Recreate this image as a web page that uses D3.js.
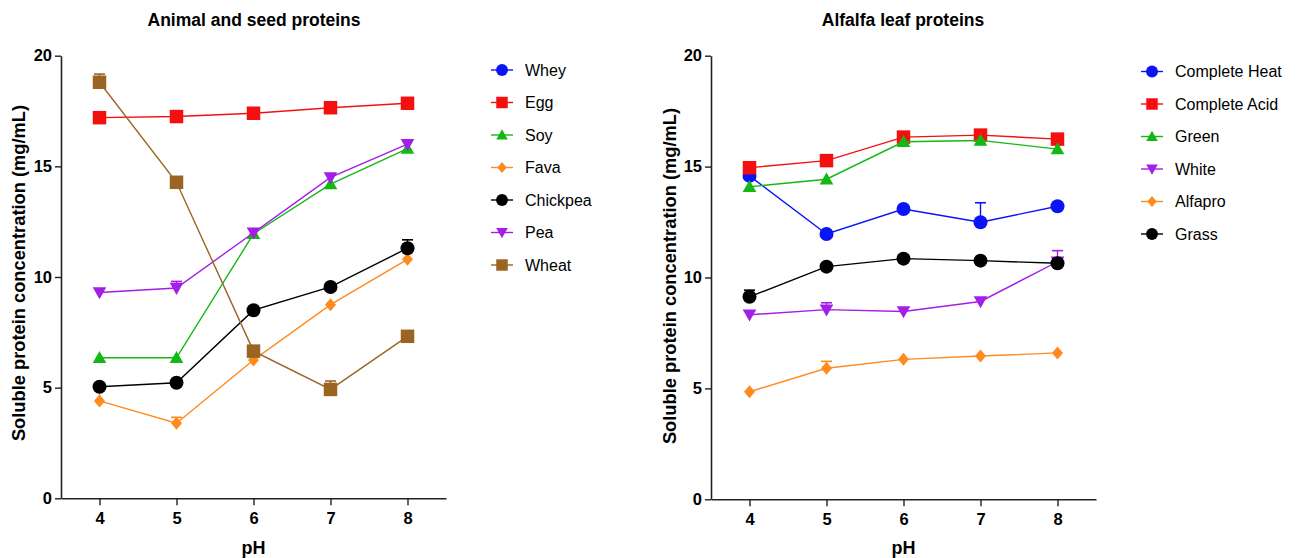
<!DOCTYPE html>
<html>
<head>
<meta charset="utf-8">
<script src="https://cdn.jsdelivr.net/npm/d3@7"></script>
<style>
  html, body { margin: 0; padding: 0; background: #fff; }
  svg { display: block; font-family: "Liberation Sans", Arial, sans-serif; }
</style>
</head>
<body>
<svg id="chart" width="1301" height="558"></svg>
<script>
// pH levels tested
const phLevels = [4, 5, 6, 7, 8];
const yTicks = [0, 5, 10, 15, 20];

// Animal and seed proteins: soluble protein (mg/mL) at each pH
const animalNames = ["Whey", "Egg", "Soy", "Fava", "Chickpea", "Pea", "Wheat"];
const whey     = [];
const egg      = [17.2, 17.25, 17.4, 17.65, 17.85];
const soy      = [6.35, 6.35, 11.95, 14.2, 15.8];
const fava     = [4.4, 3.39, 6.25, 8.75, 10.8];
const chickpea = [5.04, 5.22, 8.5, 9.55, 11.3];
const pea      = [9.3, 9.5, 12.0, 14.5, 16.0];
const wheat    = [18.8, 14.28, 6.65, 4.92, 7.32];
// upper error (SD) for each point
const eggErr      = [0, 0, 0, 0, 0];
const soyErr      = [0, 0, 0, 0, 0];
const favaErr     = [0.5, 0.27, 0, 0, 0];
const chickpeaErr = [0, 0, 0, 0, 0.38];
const peaErr      = [0, 0.3, 0, 0, 0];
const wheatErr    = [0.37, 0, 0, 0.38, 0];

// Alfalfa leaf proteins
const alfalfaNames = ["Complete Heat", "Complete Acid", "Green", "White", "Alfapro", "Grass"];
const completeHeat = [14.58, 11.96, 13.09, 12.49, 13.21];
const completeAcid = [14.95, 15.27, 16.33, 16.42, 16.24];
const green        = [14.09, 14.43, 16.12, 16.18, 15.79];
const white        = [8.32, 8.55, 8.47, 8.92, 10.71];
const alfapro      = [4.85, 5.91, 6.31, 6.46, 6.6];
const grass        = [9.13, 10.49, 10.85, 10.76, 10.64];
const completeHeatErr = [0, 0, 0, 0.88, 0];
const completeAcidErr = [0, 0, 0, 0, 0];
const greenErr        = [0, 0, 0, 0, 0];
const whiteErr        = [0, 0.31, 0, 0, 0.5];
const alfaproErr      = [0, 0.31, 0, 0, 0];
const grassErr        = [0.3, 0, 0, 0, 0];

const COLORS = {
  blue: "#0a14f5", red: "#f51010", green: "#14b814", orange: "#ff8a1e",
  black: "#000000", purple: "#a31ee6", brown: "#9a6523"
};

const animalSeries = [
  { name: "Whey", values: whey, err: [], color: COLORS.blue, shape: "circle" },
  { name: "Egg", values: egg, err: eggErr, color: COLORS.red, shape: "square" },
  { name: "Soy", values: soy, err: soyErr, color: COLORS.green, shape: "up" },
  { name: "Fava", values: fava, err: favaErr, color: COLORS.orange, shape: "diamond" },
  { name: "Chickpea", values: chickpea, err: chickpeaErr, color: COLORS.black, shape: "circle" },
  { name: "Pea", values: pea, err: peaErr, color: COLORS.purple, shape: "down" },
  { name: "Wheat", values: wheat, err: wheatErr, color: COLORS.brown, shape: "square" }
];

const alfalfaSeries = [
  { name: "Complete Heat", values: completeHeat, err: completeHeatErr, color: COLORS.blue, shape: "circle" },
  { name: "Complete Acid", values: completeAcid, err: completeAcidErr, color: COLORS.red, shape: "square" },
  { name: "Green", values: green, err: greenErr, color: COLORS.green, shape: "up" },
  { name: "White", values: white, err: whiteErr, color: COLORS.purple, shape: "down" },
  { name: "Alfapro", values: alfapro, err: alfaproErr, color: COLORS.orange, shape: "diamond" },
  { name: "Grass", values: grass, err: grassErr, color: COLORS.black, shape: "circle" }
];

const svg = d3.select("#chart");

// Marker path generator centred on 0,0
function markerPath(shape, s) {
  const h = s / 2;
  switch (shape) {
    case "circle": return d3.symbol(d3.symbolCircle, Math.PI * h * h)();
    case "square": return `M${-h},${-h}H${h}V${h}H${-h}Z`;
    case "up": return `M0,${-h * 1.05}L${h * 1.05},${h * 0.8}L${-h * 1.05},${h * 0.8}Z`;
    case "down": return `M0,${h * 1.05}L${h * 1.05},${-h * 0.8}L${-h * 1.05},${-h * 0.8}Z`;
    case "diamond": return `M0,${-h}L${h * 0.85},0L0,${h}L${-h * 0.85},0Z`;
  }
}
const markerSize = { circle: 14, square: 13.5, up: 13, down: 13, diamond: 13 };

function drawPanel(cfg) {
  const g = svg.append("g");
  const x = d3.scaleLinear().domain([3.5, 8.5]).range([cfg.left, cfg.right]);
  const y = d3.scaleLinear().domain([0, 20]).range([cfg.bottom, cfg.top]);

  // Title
  g.append("text")
    .attr("x", cfg.titleX).attr("y", 26)
    .attr("text-anchor", "middle")
    .attr("font-weight", "bold").attr("font-size", 17.5)
    .text(cfg.title);

  // Axes
  const yAxis = g.append("g")
    .attr("transform", `translate(${cfg.left},0)`)
    .call(d3.axisLeft(y).tickValues(yTicks).tickFormat(d3.format("d"))
      .tickSize(6).tickPadding(3).tickSizeOuter(0));
  const xAxis = g.append("g")
    .attr("transform", `translate(0,${cfg.bottom})`)
    .call(d3.axisBottom(x).tickValues(phLevels).tickFormat(d3.format("d"))
      .tickSize(7).tickPadding(7).tickSizeOuter(0));
  [xAxis, yAxis].forEach(ax => {
    ax.select(".domain").attr("stroke", "#222").attr("stroke-width", 1.6);
    ax.selectAll(".tick line").attr("stroke", "#222").attr("stroke-width", 1.4);
    ax.selectAll(".tick text")
      .attr("fill", "#000").attr("font-size", 16.5).attr("font-weight", "bold")
      .attr("font-family", "Liberation Sans, Arial, sans-serif");
  });

  // Axis titles
  g.append("text")
    .attr("x", (cfg.left + cfg.right) / 2).attr("y", 554)
    .attr("text-anchor", "middle")
    .attr("font-weight", "bold").attr("font-size", 18)
    .text("pH");
  g.append("text")
    .attr("transform", `translate(${cfg.yTitleX},${cfg.yTitleY}) rotate(-90)`)
    .attr("text-anchor", "middle")
    .attr("font-weight", "bold").attr("font-size", 18.3)
    .text("Soluble protein concentration (mg/mL)");

  const line = d3.line().x((d, i) => x(phLevels[i])).y(d => y(d));

  cfg.series.forEach(s => {
    if (!s.values.length) return;
    const sg = g.append("g");
    sg.append("path")
      .attr("d", line(s.values))
      .attr("fill", "none").attr("stroke", s.color).attr("stroke-width", 1.4);
    // upper error bars with cap
    s.values.forEach((v, i) => {
      const e = s.err[i] || 0;
      if (e <= 0) return;
      const cx = x(phLevels[i]);
      sg.append("line")
        .attr("x1", cx).attr("x2", cx).attr("y1", y(v)).attr("y2", y(v + e))
        .attr("stroke", s.color).attr("stroke-width", 1.4);
      sg.append("line")
        .attr("x1", cx - 5.5).attr("x2", cx + 5.5).attr("y1", y(v + e)).attr("y2", y(v + e))
        .attr("stroke", s.color).attr("stroke-width", 1.6);
    });
    sg.selectAll("path.mk")
      .data(s.values)
      .join("path")
      .attr("class", "mk")
      .attr("transform", (d, i) => `translate(${x(phLevels[i])},${y(d)})`)
      .attr("d", markerPath(s.shape, markerSize[s.shape]))
      .attr("fill", s.color);
  });

  // Legend
  const lg = g.append("g");
  cfg.series.forEach((s, i) => {
    const ly = cfg.legendY + i * cfg.legendStep;
    lg.append("line")
      .attr("x1", cfg.legendX).attr("x2", cfg.legendX + 22)
      .attr("y1", ly).attr("y2", ly)
      .attr("stroke", s.color).attr("stroke-width", 1.4);
    lg.append("path")
      .attr("transform", `translate(${cfg.legendX + 11},${ly})`)
      .attr("d", markerPath(s.shape, markerSize[s.shape] * 0.85))
      .attr("fill", s.color);
    lg.append("text")
      .attr("x", cfg.legendX + 34).attr("y", ly)
      .attr("dy", "0.35em")
      .attr("font-size", 16)
      .text(s.name);
  });
}

drawPanel({
  title: "Animal and seed proteins", titleX: 254,
  left: 61, right: 446, top: 55.7, bottom: 498.3,
  yTitleX: 25, yTitleY: 273, series: animalSeries,
  legendX: 491, legendY: 70, legendStep: 32.5
});

drawPanel({
  title: "Alfalfa leaf proteins", titleX: 903,
  left: 711, right: 1096, top: 55.7, bottom: 499.3,
  yTitleX: 676, yTitleY: 276, series: alfalfaSeries,
  legendX: 1141, legendY: 71.5, legendStep: 32.5
});
</script>
</body>
</html>
